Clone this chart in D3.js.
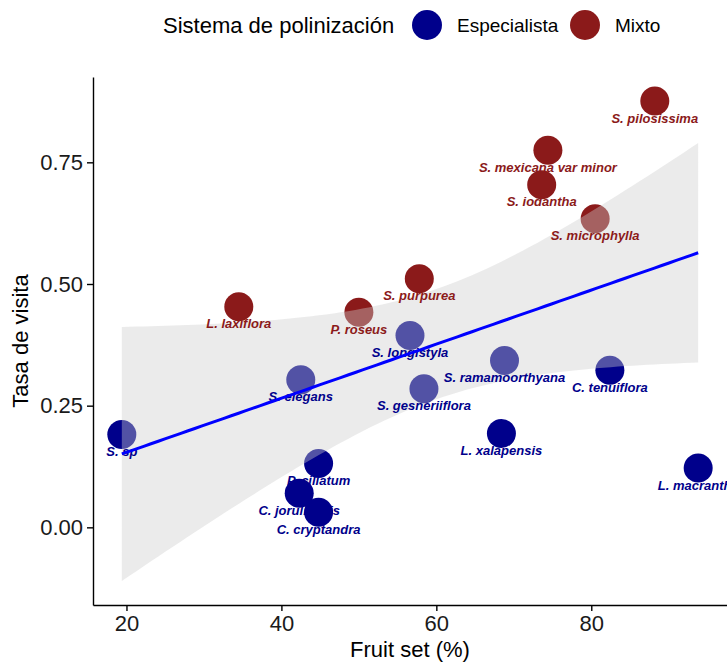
<!DOCTYPE html>
<html>
<head>
<meta charset="utf-8">
<script src="https://cdn.jsdelivr.net/npm/d3@7"></script>
<style>
  body { margin: 0; background: #fff; font-family: "Liberation Sans", Arial, sans-serif; }
</style>
</head>
<body>
<div id="chart"></div>
<script>
// species, fruit set (%), visit rate, pollination system
const species = ["S. pilosissima", "S. mexicana var minor", "S. iodantha", "S. microphylla",
  "S. purpurea", "L. laxiflora", "P. roseus", "S. longistyla", "S. elegans", "S. gesneriiflora",
  "S. ramamoorthyana", "C. tenuiflora", "L. xalapensis", "L. macrantha", "S. sp",
  "P. ciliatum", "C. jorullensis", "C. cryptandra"];
const fruitSet = [88.2, 74.4, 73.6, 80.5, 57.8, 34.5, 50.0, 56.6, 42.5, 58.4,
  68.8, 82.4, 68.4, 93.8, 19.4, 44.8, 42.3, 44.8];
const visitRate = [0.876, 0.775, 0.704, 0.634, 0.511, 0.453, 0.442, 0.394, 0.303, 0.285,
  0.343, 0.323, 0.193, 0.122, 0.191, 0.131, 0.070, 0.031];
const system = ["Mixto", "Mixto", "Mixto", "Mixto", "Mixto", "Mixto", "Mixto",
  "Especialista", "Especialista", "Especialista", "Especialista", "Especialista",
  "Especialista", "Especialista", "Especialista", "Especialista", "Especialista", "Especialista"];

const groups = ["Especialista", "Mixto"];
const groupColors = ["#00008b", "#8b1a1a"];
const xTicks = [20, 40, 60, 80];
const yTicks = [0, 0.25, 0.5, 0.75];

const W = 727, H = 664;
const plot = { left: 93, right: 727, top: 77, bottom: 605 };

const data = species.map((s, i) => ({ name: s, x: fruitSet[i], y: visitRate[i], sys: system[i] }));

// linear fit with 95% confidence band (like geom_smooth(method = "lm"))
const n = data.length;
const mx = d3.mean(data, d => d.x), my = d3.mean(data, d => d.y);
const sxx = d3.sum(data, d => (d.x - mx) ** 2);
const sxy = d3.sum(data, d => (d.x - mx) * (d.y - my));
const slope = sxy / sxx, icpt = my - slope * mx;
const sres = Math.sqrt(d3.sum(data, d => (d.y - icpt - slope * d.x) ** 2) / (n - 2));
const tq = 2.1199; // t(0.975, df = 16)
const [xmin, xmax] = d3.extent(data, d => d.x);
const band = d3.range(80).map(k => {
  const x = xmin + (xmax - xmin) * k / 79;
  const fit = icpt + slope * x;
  const se = sres * Math.sqrt(1 / n + (x - mx) ** 2 / sxx);
  return { x, fit, lo: fit - tq * se, hi: fit + tq * se };
});

const xPad = (xmax - xmin) * 0.05;
const yLo = Math.min(d3.min(band, d => d.lo), d3.min(data, d => d.y));
const yHi = Math.max(d3.max(band, d => d.hi), d3.max(data, d => d.y));
const yPad = (yHi - yLo) * 0.05;

const x = d3.scaleLinear().domain([xmin - xPad, xmax + xPad]).range([plot.left, plot.right]);
const y = d3.scaleLinear().domain([yLo - yPad, yHi + yPad]).range([plot.bottom, plot.top]);
const color = d3.scaleOrdinal().domain(groups).range(groupColors);

const svg = d3.select("#chart").append("svg")
  .attr("width", W).attr("height", H)
  .style("font-family", '"Liberation Sans", Arial, sans-serif');

// points
svg.append("g").selectAll("circle").data(data).enter().append("circle")
  .attr("cx", d => x(d.x)).attr("cy", d => y(d.y)).attr("r", 14.5)
  .attr("fill", d => color(d.sys));

// confidence ribbon (over the points)
svg.append("path").datum(band)
  .attr("d", d3.area().x(d => x(d.x)).y0(d => y(d.lo)).y1(d => y(d.hi)))
  .attr("fill", "#cccccc").attr("fill-opacity", 0.4);

// labels
svg.append("g").selectAll("text").data(data).enter().append("text")
  .attr("x", d => x(d.x)).attr("y", d => y(d.y) + 17).attr("dy", "0.35em")
  .attr("text-anchor", "middle")
  .style("font-size", "13px").style("font-weight", "bold").style("font-style", "italic")
  .attr("fill", d => color(d.sys))
  .text(d => d.name);

// fit line
svg.append("path").datum(band)
  .attr("d", d3.line().x(d => x(d.x)).y(d => y(d.fit)))
  .attr("fill", "none").attr("stroke", "#0000ff").attr("stroke-width", 3);

// axes
const xAxis = svg.append("g").attr("transform", `translate(0,${plot.bottom})`)
  .call(d3.axisBottom(x).tickValues(xTicks).tickSize(6).tickPadding(4).tickSizeOuter(0));
const yAxis = svg.append("g").attr("transform", `translate(${plot.left},0)`)
  .call(d3.axisLeft(y).tickValues(yTicks).tickFormat(d3.format(".2f")).tickSize(6).tickPadding(4).tickSizeOuter(0));
[xAxis, yAxis].forEach(a => {
  a.select(".domain").attr("stroke", "#000").attr("stroke-width", 1.4);
  a.selectAll(".tick line").attr("stroke", "#000").attr("stroke-width", 1.4);
  a.selectAll(".tick text").attr("fill", "#1a1a1a").style("font-size", "22px")
    .style("font-family", '"Liberation Sans", Arial, sans-serif');
});

// axis titles
svg.append("text").attr("x", (plot.left + plot.right) / 2).attr("y", 657)
  .attr("text-anchor", "middle").style("font-size", "22px").text("Fruit set (%)");
svg.append("text").attr("transform", `translate(28,${(plot.top + plot.bottom) / 2}) rotate(-90)`)
  .attr("text-anchor", "middle").style("font-size", "22px").text("Tasa de visita");

// legend
const leg = svg.append("g");
leg.append("text").attr("x", 163).attr("y", 25).attr("dy", "0.35em")
  .style("font-size", "22px").text("Sistema de polinización");
const legX = [427, 585];
groups.forEach((g, i) => {
  leg.append("circle").attr("cx", legX[i]).attr("cy", 25).attr("r", 15).attr("fill", color(g));
  leg.append("text").attr("x", legX[i] + 30).attr("y", 25).attr("dy", "0.35em")
    .style("font-size", "19px").text(g);
});
</script>
</body>
</html>
